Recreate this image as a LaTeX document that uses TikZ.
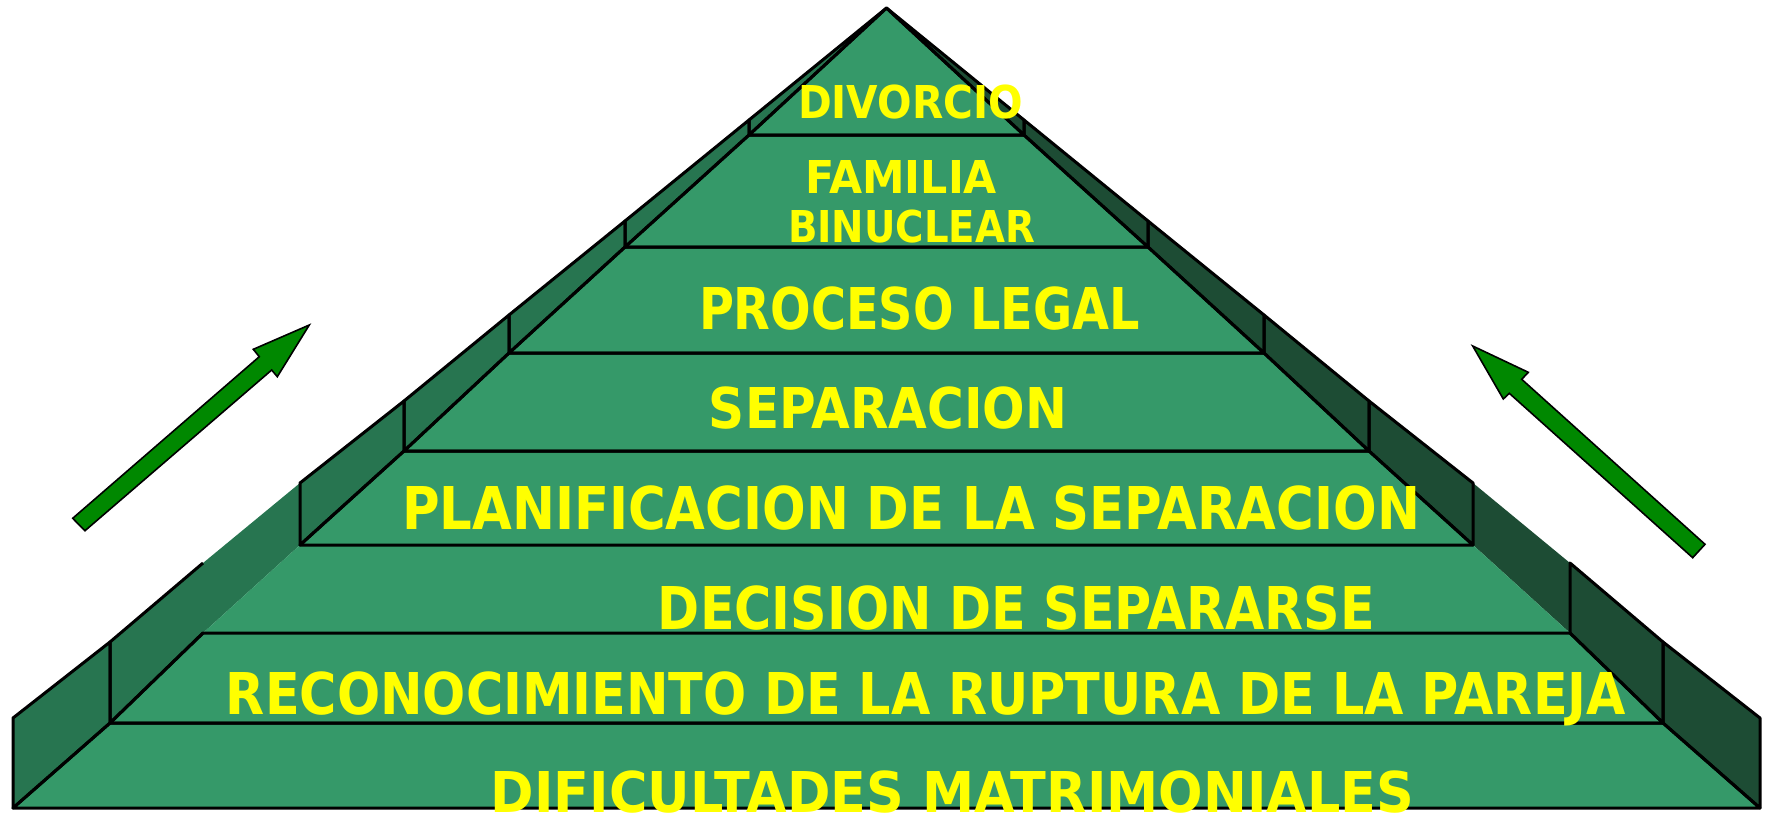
\documentclass[tikz,border=0pt]{standalone}
\usepackage{fontspec}
\usepackage{graphicx}
\newfontfamily\pyrfont{DejaVu Sans}
\definecolor{frontgreen}{RGB}{53,153,105}
\definecolor{leftwall}{RGB}{39,117,80}
\definecolor{rightwall}{RGB}{29,76,52}
\definecolor{arrowgreen}{RGB}{0,136,0}
\definecolor{labelyellow}{RGB}{255,255,0}
\newcommand\fittext[3]{\resizebox{#1pt}{#2pt}{\raisebox{0pt}[\fontcharht\font`H][0pt]{#3}}}
\begin{document}
\begin{tikzpicture}[x=1pt,y=-1pt,
  edge/.style={draw=black,line width=3pt,line join=round},
  arrowshape/.style={fill=arrowgreen,draw=black,line width=1.6pt,line join=miter},
  lbl/.style={inner sep=0pt,outer sep=0pt,text=labelyellow,font=\pyrfont\bfseries\fontsize{40}{49}\selectfont}]
\useasboundingbox (0,0) rectangle (1773,817);
\def\cx{886.5}
% fills of all levels
\foreach \wa/\ya/\wb/\yb/\ea/\eb in {873.5/808/776.5/723/718/642, 776.5/723/683.5/633/642/563, 683.5/633/586.5/545/563/483, 586.5/545/482.5/451/483/401, 482.5/451/377.5/353/401/315, 377.5/353/261.5/247/315/221, 261.5/247/137.5/135/221/120, 137.5/135/0/8/120/8}{
  \fill[leftwall] ({\cx-\wa},\ya) -- ({\cx-\wb},\yb) -- ({\cx-\wb},\eb) -- ({\cx-\wa},\ea) -- cycle;
  \fill[rightwall] ({\cx+\wa},\ya) -- ({\cx+\wb},\yb) -- ({\cx+\wb},\eb) -- ({\cx+\wa},\ea) -- cycle;
  \fill[frontgreen] ({\cx-\wa},\ya) -- ({\cx+\wa},\ya) -- ({\cx+\wb},\yb) -- ({\cx-\wb},\yb) -- cycle;
}
% outlines (the third level has none)
\foreach \wa/\ya/\wb/\yb/\ea/\eb in {873.5/808/776.5/723/718/642, 586.5/545/482.5/451/483/401, 482.5/451/377.5/353/401/315, 377.5/353/261.5/247/315/221, 261.5/247/137.5/135/221/120, 137.5/135/0/8/120/8}{
  \draw[edge] ({\cx-\wa},\ya) -- ({\cx-\wb},\yb) -- ({\cx-\wb},\eb) -- ({\cx-\wa},\ea) -- cycle;
  \draw[edge] ({\cx+\wa},\ya) -- ({\cx+\wb},\yb) -- ({\cx+\wb},\eb) -- ({\cx+\wa},\ea) -- cycle;
  \draw[edge] ({\cx-\wa},\ya) -- ({\cx+\wa},\ya) -- ({\cx+\wb},\yb) -- ({\cx-\wb},\yb) -- cycle;
}
% second level: its left wall lacks the inner vertical edge
\draw[edge] ({\cx-683.5},563) -- ({\cx-776.5},642) -- ({\cx-776.5},723) -- ({\cx-683.5},633);
\draw[edge] ({\cx+776.5},723) -- ({\cx+683.5},633) -- ({\cx+683.5},563) -- ({\cx+776.5},642) -- cycle;
\draw[edge] ({\cx-776.5},723) -- ({\cx+776.5},723) -- ({\cx+683.5},633) -- ({\cx-683.5},633) -- cycle;
% arrows
\draw[arrowshape] (72.7,518.3) -- (85,530.7) -- (271.7,370) -- (277.3,376.7) -- (309.3,325) -- (253.3,349.3) -- (259.3,356.7) -- cycle;
\draw[arrowshape] (1705,544.3) -- (1692.7,557.7) -- (1509.3,393.3) -- (1503.3,399) -- (1472.7,346) -- (1528.3,372.3) -- (1521.7,379.3) -- cycle;
% labels
\node[lbl] (divorcio) at (910.5,101.5) {\fittext{225}{33}{DIVORCIO}};
\node[lbl,anchor=north,align=center] (familia) at (911.5,160) {\makebox[247pt][l]{\hspace*{17pt}\fittext{192}{33}{FAMILIA}}\\\fittext{247}{32}{BINUCLEAR}};
\node[lbl] (proceso) at (919.5,308) {\fittext{441}{42}{PROCESO LEGAL}};
\node[lbl] (separacion) at (888,407.5) {\fittext{358}{41}{SEPARACION}};
\node[lbl] (planif) at (911,507.5) {\fittext{1018}{43}{PLANIFICACION DE LA SEPARACION}};
\node[lbl] (decision) at (1016.5,607.5) {\fittext{717}{43}{DECISION DE SEPARARSE}};
\node[lbl] (reconoc) at (926,693) {\fittext{1400}{42}{RECONOCIMIENTO DE LA RUPTURA DE LA PAREJA}};
\node[lbl] (dificult) at (952.5,792) {\fittext{923}{41}{DIFICULTADES MATRIMONIALES}};
\end{tikzpicture}
\end{document}
